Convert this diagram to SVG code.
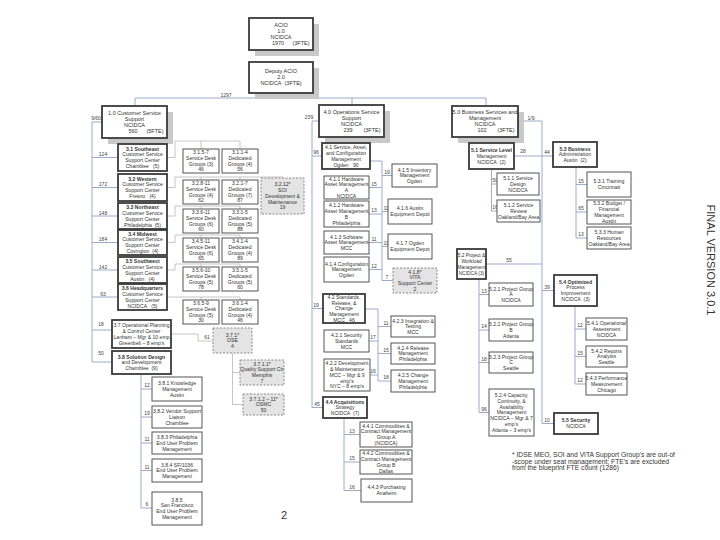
<svg xmlns="http://www.w3.org/2000/svg" width="720" height="540" viewBox="0 0 720 540">
<style>
.bx{fill:#fff;stroke:#555;stroke-width:1}
.tk{fill:#fff;stroke:#3a3a3a;stroke-width:1.8}
.ds{fill:#e4e4e4;stroke:#888;stroke-width:1;stroke-dasharray:2 1.5}
.sh{fill:#c9c9c9}
text{font-family:"Liberation Sans",Arial,sans-serif;fill:#333}
.t{font-size:5.1px;text-anchor:middle}
.tm{font-size:5.5px;text-anchor:middle}
.b{font-weight:bold}
.lb{font-size:5px;text-anchor:middle;fill:#444}
.cn{fill:none;stroke:#9caccb;stroke-width:1}
.cg{fill:none;stroke:#b8b8b8;stroke-width:0.8}
</style>
<rect width="720" height="540" fill="#fff"/>
<g id="connectors">
<path class="cn" d="M135 98 H486 M135 98 V106 M352 98 V105 M486 98 V106"/>
<path class="cn" d="M102 122 H92 V362 H112 M92 157.5 H118 M92 187.5 H118 M92 216 H118 M92 242.5 H118 M92 270 H118 M92 297 H118 M92 330 H112"/>
<path class="cg" d="M167 157.5 H175 V141 H240 V149 M201 141 V149"/>
<path class="cg" d="M167 187.5 H175 V177 H283 V178 M201 177 V180 M240 177 V180"/>
<path class="cg" d="M167 216 H175 V206 H240 V209 M201 206 V209"/>
<path class="cg" d="M167 242.5 H175 V235 H240 V238 M201 235 V238"/>
<path class="cg" d="M167 270 H175 V264 H240 V267 M201 264 V267"/>
<path class="cg" d="M167 297 H240 V300 M201 297 V300"/>
<path class="cg" d="M171 334 H198 V341 H213"/>
<path class="cg" d="M232.5 353 V404.5 H243 M232.5 372.5 H240"/>
<path class="cn" d="M141 374 V508 H152 M141 389 H152 M141 417 H152 M141 443 H152 M141 470.5 H152"/>
<path class="cn" d="M319 121 H312 V407.5 H323 M312 156 H322 M312 308.5 H323"/>
<path class="cn" d="M370 161 H382 V280.5 H393 M369 187.5 H382 M369 214 H382 M369 242.5 H382 M369 269.5 H382 M382 175.5 H392 M382 211.5 H388 M382 246.5 H388"/>
<path class="cn" d="M365 309 H378 V381 H391 M369 341 H378 M370 375 H378 M378 326.5 H391 M378 353.5 H391"/>
<path class="cn" d="M344 418 V490.5 H361 M344 434.5 H360 M344 462 H360"/>
<path class="cn" d="M518 121 H542 V423.5 H554 M542 290.5 H554"/>
<path class="cn" d="M514 156 H553 M491.5 169 V211 H497 M491.5 184 H497"/>
<path class="cn" d="M576 167 V238 H587 M576 184.5 H587 M576 212 H587"/>
<path class="cn" d="M486 264 H542 M479 279 V412.5 H489 M479 294.5 H489 M479 330 H489 M479 362.5 H489"/>
<path class="cn" d="M575 306 V384 H586 M575 329 H586 M575 356.5 H586"/>
</g>
<g id="labels">
<text class="lb" x="226" y="96.5">1297</text>
<text class="lb" x="96" y="120">9/60</text>
<text class="lb" x="103" y="156">124</text>
<text class="lb" x="103" y="186">172</text>
<text class="lb" x="103" y="214.5">148</text>
<text class="lb" x="103" y="241">184</text>
<text class="lb" x="103" y="268.5">142</text>
<text class="lb" x="103" y="295.5">63</text>
<text class="lb" x="101" y="326">18</text>
<text class="lb" x="101" y="355">50</text>
<text class="lb" x="207" y="339">61</text>
<text class="lb" x="147" y="387">12</text>
<text class="lb" x="147" y="415">19</text>
<text class="lb" x="147" y="441">11</text>
<text class="lb" x="147" y="468.5">11</text>
<text class="lb" x="147" y="506">6</text>
<text class="lb" x="309" y="119">239</text>
<text class="lb" x="316" y="154">96</text>
<text class="lb" x="316" y="307">19</text>
<text class="lb" x="317" y="405.5">45</text>
<text class="lb" x="374" y="185.5">15</text>
<text class="lb" x="374" y="212">13</text>
<text class="lb" x="374" y="240.5">11</text>
<text class="lb" x="374" y="267.5">12</text>
<text class="lb" x="387" y="173.5">19</text>
<text class="lb" x="386" y="209.5">11</text>
<text class="lb" x="386" y="244.5">11</text>
<text class="lb" x="387" y="278.5">7</text>
<text class="lb" x="373" y="339">17</text>
<text class="lb" x="373" y="373">16</text>
<text class="lb" x="386" y="324.5">11</text>
<text class="lb" x="386" y="351.5">15</text>
<text class="lb" x="386" y="379">18</text>
<text class="lb" x="352" y="432.5">13</text>
<text class="lb" x="352" y="460">15</text>
<text class="lb" x="352" y="488.5">16</text>
<text class="lb" x="531" y="119.5">1/9</text>
<text class="lb" x="523" y="153">28</text>
<text class="lb" x="547" y="153.5">44</text>
<text class="lb" x="495" y="182">50</text>
<text class="lb" x="495" y="209">16</text>
<text class="lb" x="581" y="182.5">15</text>
<text class="lb" x="581" y="210">65</text>
<text class="lb" x="581" y="236">13</text>
<text class="lb" x="509" y="262">55</text>
<text class="lb" x="484" y="292.5">13</text>
<text class="lb" x="484" y="328">14</text>
<text class="lb" x="484" y="360.5">18</text>
<text class="lb" x="484" y="410.5">96</text>
<text class="lb" x="547" y="288.5">39</text>
<text class="lb" x="580" y="327">12</text>
<text class="lb" x="580" y="354.5">15</text>
<text class="lb" x="580" y="382">12</text>
<text class="lb" x="547" y="421.5">10</text>
</g>
<g id="acio"><rect class="sh" x="255" y="24" width="64" height="32"/><rect class="tk" x="249" y="18" width="64" height="32"/>
<text class="tm"><tspan x="281" y="26.8">ACIO</tspan><tspan x="281" y="32.8">1.0</tspan><tspan x="281" y="38.8">NCIDCA</tspan><tspan x="278" y="44.8">1970</tspan></text><text class="tm" x="301" y="44.8">(3FTE)</text></g>
<g id="deputy"><rect class="sh" x="255" y="68" width="64" height="31"/><rect class="tk" x="249" y="62" width="64" height="31"/>
<text class="tm"><tspan x="281" y="73.3">Deputy ACIO</tspan><tspan x="281" y="79.3">2.0</tspan><tspan x="281" y="85.3">NCIDCA&#160;&#160;(3FTE)</tspan></text></g>
<g id="n1_0"><rect class="sh" x="108" y="112" width="65" height="32"/><rect class="tk" x="102" y="106" width="65" height="32"/>
<text class="tm"><tspan x="134.5" y="114.8">1.0 Customer Service</tspan><tspan x="134.5" y="120.8">Support</tspan><tspan x="134.5" y="126.8">NCIDCA</tspan><tspan x="133" y="132.8">560</tspan></text><text class="tm" x="155" y="132.8">(5FTE)</text></g>
<g id="n3_1"><rect class="tk" x="118" y="144" width="49" height="27"/><text class="t"><tspan class="b" x="142.5" y="150.6">3.1 Southeast</tspan><tspan x="142.5" y="156.4">Customer Service</tspan><tspan x="142.5" y="162.2">Support Center</tspan><tspan x="142.5" y="168">Chamblee&#160;&#160;&#160;(5)</tspan></text></g>
<g id="n3_2"><rect class="tk" x="118" y="174" width="49" height="27"/><text class="t"><tspan class="b" x="142.5" y="180.6">3.2 Western</tspan><tspan x="142.5" y="186.4">Customer Service</tspan><tspan x="142.5" y="192.2">Support Center</tspan><tspan x="142.5" y="198">Fresno&#160;&#160;&#160;(4)</tspan></text></g>
<g id="n3_3"><rect class="tk" x="118" y="203" width="49" height="26"/><text class="t"><tspan class="b" x="142.5" y="209.1">3.3 Northeast</tspan><tspan x="142.5" y="214.9">Customer Service</tspan><tspan x="142.5" y="220.7">Support Center</tspan><tspan x="142.5" y="226.5">Philadelphia&#160;&#160;(5)</tspan></text></g>
<g id="n3_4"><rect class="tk" x="118" y="230" width="49" height="25"/><text class="t"><tspan class="b" x="142.5" y="235.6">3.4 Midwest</tspan><tspan x="142.5" y="241.4">Customer Service</tspan><tspan x="142.5" y="247.2">Support Center</tspan><tspan x="142.5" y="253">Covington&#160;&#160;(4)</tspan></text></g>
<g id="n3_5"><rect class="tk" x="118" y="257" width="49" height="26"/><text class="t"><tspan class="b" x="142.5" y="263.1">3.5 Southwest</tspan><tspan x="142.5" y="268.9">Customer Service</tspan><tspan x="142.5" y="274.7">Support Center</tspan><tspan x="142.5" y="280.5">Austin&#160;&#160;&#160;(4)</tspan></text></g>
<g id="n3_6"><rect class="tk" x="118" y="284" width="49" height="26"/><text class="t"><tspan class="b" x="142.5" y="290.1">3.6 Headquarters</tspan><tspan x="142.5" y="295.9">Customer Service</tspan><tspan x="142.5" y="301.7">Support Center</tspan><tspan x="142.5" y="307.5">NCIDCA&#160;&#160;&#160;(5)</tspan></text></g>
<g id="g3_1s"><rect class="bx" x="183" y="149" width="36" height="24"/><text class="t"><tspan x="201" y="154.4">3.1.5-7</tspan><tspan x="201" y="160">Service Desk</tspan><tspan x="201" y="165.6">Groups (3)</tspan><tspan x="201" y="171.2">46</tspan></text></g>
<g id="g3_1d"><rect class="bx" x="222" y="149" width="36" height="24"/><text class="t"><tspan x="240" y="154.4">3.1.1-4</tspan><tspan x="240" y="160">Dedicated</tspan><tspan x="240" y="165.6">Groups (4)</tspan><tspan x="240" y="171.2">56</tspan></text></g>
<g id="g3_2s"><rect class="bx" x="183" y="180" width="36" height="24"/><text class="t"><tspan x="201" y="185.4">3.2.8-11</tspan><tspan x="201" y="191">Service Desk</tspan><tspan x="201" y="196.6">Groups (4)</tspan><tspan x="201" y="202.2">62</tspan></text></g>
<g id="g3_2d"><rect class="bx" x="222" y="180" width="36" height="24"/><text class="t"><tspan x="240" y="185.4">3.2.1-7</tspan><tspan x="240" y="191">Dedicated</tspan><tspan x="240" y="196.6">Groups (7)</tspan><tspan x="240" y="202.2">87</tspan></text></g>
<g id="g3_3s"><rect class="bx" x="183" y="209" width="36" height="24"/><text class="t"><tspan x="201" y="214.4">3.3.6-11</tspan><tspan x="201" y="220">Service Desk</tspan><tspan x="201" y="225.6">Groups (6)</tspan><tspan x="201" y="231.2">60</tspan></text></g>
<g id="g3_3d"><rect class="bx" x="222" y="209" width="36" height="24"/><text class="t"><tspan x="240" y="214.4">3.3.1-5</tspan><tspan x="240" y="220">Dedicated</tspan><tspan x="240" y="225.6">Groups (5)</tspan><tspan x="240" y="231.2">88</tspan></text></g>
<g id="g3_4s"><rect class="bx" x="183" y="238" width="36" height="24"/><text class="t"><tspan x="201" y="243.4">3.4.5-11</tspan><tspan x="201" y="249">Service Desk</tspan><tspan x="201" y="254.6">Groups (6)</tspan><tspan x="201" y="260.2">65</tspan></text></g>
<g id="g3_4d"><rect class="bx" x="222" y="238" width="36" height="24"/><text class="t"><tspan x="240" y="243.4">3.4.1-4</tspan><tspan x="240" y="249">Dedicated</tspan><tspan x="240" y="254.6">Groups (4)</tspan><tspan x="240" y="260.2">89</tspan></text></g>
<g id="g3_5s"><rect class="bx" x="183" y="267" width="36" height="24"/><text class="t"><tspan x="201" y="272.4">3.5.6-10</tspan><tspan x="201" y="278">Service Desk</tspan><tspan x="201" y="283.6">Groups (5)</tspan><tspan x="201" y="289.2">78</tspan></text></g>
<g id="g3_5d"><rect class="bx" x="222" y="267" width="36" height="24"/><text class="t"><tspan x="240" y="272.4">3.5.1-5</tspan><tspan x="240" y="278">Dedicated</tspan><tspan x="240" y="283.6">Groups (5)</tspan><tspan x="240" y="289.2">60</tspan></text></g>
<g id="g3_6s"><rect class="bx" x="183" y="300" width="36" height="24"/><text class="t"><tspan x="201" y="305.4">3.6.5-9</tspan><tspan x="201" y="311">Service Desk</tspan><tspan x="201" y="316.6">Groups (5)</tspan><tspan x="201" y="322.2">30</tspan></text></g>
<g id="g3_6d"><rect class="bx" x="222" y="300" width="36" height="24"/><text class="t"><tspan x="240" y="305.4">3.6.1-4</tspan><tspan x="240" y="311">Dedicated</tspan><tspan x="240" y="316.6">Groups (4)</tspan><tspan x="240" y="322.2">46</tspan></text></g>
<g id="n3_2_12"><rect class="ds" x="261" y="178" width="43" height="36"/><text class="t"><tspan x="282.5" y="186.2">3.2.12*</tspan><tspan x="282.5" y="192">SOI</tspan><tspan x="282.5" y="197.8">Development &amp;</tspan><tspan x="282.5" y="203.6">Maintenance</tspan><tspan x="282.5" y="209.4">19</tspan></text></g>
<g id="n3_7"><rect class="tk" x="112" y="320" width="59" height="28"/><text class="t"><tspan x="141.5" y="327.1">3.7 Operational Planning</tspan><tspan x="141.5" y="332.9">&amp; Control Center</tspan><tspan x="141.5" y="338.7">Lanham – Mgr &amp; 10 emp</tspan><tspan x="141.5" y="344.5">Greenbelt – 8 emp's</tspan></text></g>
<g id="n3_8"><rect class="tk" x="112" y="351" width="59" height="23"/><text class="t"><tspan class="b" x="141.5" y="358.5">3.8 Solution Design</tspan><tspan x="141.5" y="364.3">and Development</tspan><tspan x="141.5" y="370.1">Chamblee&#160;&#160;(9)</tspan></text></g>
<g id="n3_7_1"><rect class="ds" x="213" y="328" width="39" height="25"/><text class="t"><tspan x="232.5" y="336.5">3.7.1*</tspan><tspan x="232.5" y="342.3">OSE</tspan><tspan x="232.5" y="348.1">4</tspan></text></g>
<g id="n3_7_1_1"><rect class="ds" x="240" y="360" width="44" height="25"/><text class="t"><tspan x="262" y="365.6">3.7.1.1*</tspan><tspan x="262" y="371.4">Quality Support Ctr</tspan><tspan x="262" y="377.2">Memphis</tspan><tspan x="262" y="383">7</tspan></text></g>
<g id="n3_7_1_2"><rect class="ds" x="243" y="394" width="41" height="21"/><text class="t"><tspan x="263.5" y="400.5">3.7.1.2 – 11*</tspan><tspan x="263.5" y="406.3">OSMC</tspan><tspan x="263.5" y="412.1">50</tspan></text></g>
<g id="n3_8_1"><rect class="bx" x="152" y="377" width="50" height="24"/><text class="t"><tspan x="177" y="385">3.8.1 Knowledge</tspan><tspan x="177" y="390.8">Management</tspan><tspan x="177" y="396.6">Austin</tspan></text></g>
<g id="n3_8_2"><rect class="bx" x="152" y="406" width="50" height="22"/><text class="t"><tspan x="177" y="413">3.8.2 Vendor Support</tspan><tspan x="177" y="418.8">Liaison</tspan><tspan x="177" y="424.6">Chamblee</tspan></text></g>
<g id="n3_8_3"><rect class="bx" x="152" y="432" width="50" height="22"/><text class="t"><tspan x="177" y="439">3.8.3 Philadelphia</tspan><tspan x="177" y="444.8">End User Problem</tspan><tspan x="177" y="450.6">Management</tspan></text></g>
<g id="n3_8_4"><rect class="bx" x="152" y="459" width="50" height="23"/><text class="t"><tspan x="177" y="466.5">3.8.4 SF/1036</tspan><tspan x="177" y="472.3">End User Problem</tspan><tspan x="177" y="478.1">Management</tspan></text></g>
<g id="n3_8_5"><rect class="bx" x="152" y="492" width="50" height="33"/><text class="t"><tspan x="177" y="501.6">3.8.5</tspan><tspan x="177" y="507.4">San Francisco</tspan><tspan x="177" y="513.2">End User Problem</tspan><tspan x="177" y="519">Management</tspan></text></g>
<g id="n4_0"><rect class="sh" x="325" y="111" width="65" height="32"/><rect class="tk" x="319" y="105" width="65" height="32"/>
<text class="tm"><tspan x="351.5" y="113.8">4.0 Operations Service</tspan><tspan x="351.5" y="119.8">Support</tspan><tspan x="351.5" y="125.8">NCIDCA</tspan><tspan x="348" y="131.8">239</tspan></text><text class="tm" x="372" y="131.8">(3FTE)</text></g>
<g id="n4_1"><rect class="tk" x="322" y="143" width="48" height="26"/><text class="t"><tspan x="346" y="149.1">4.1 Service, Asset,</tspan><tspan x="346" y="154.9">and Configuration</tspan><tspan x="346" y="160.7">Management</tspan><tspan x="346" y="166.5">Ogden&#160;&#160;&#160;90</tspan></text></g>
<g id="n4_1_1"><rect class="bx" x="324" y="176" width="45" height="23"/><text class="t"><tspan x="346.5" y="180.6">4.1.1 Hardware</tspan><tspan x="346.5" y="186.4">Asset Management</tspan><tspan x="346.5" y="192.2">A</tspan><tspan x="346.5" y="198">NCIDCA</tspan></text></g>
<g id="n4_1_2"><rect class="bx" x="324" y="201" width="45" height="26"/><text class="t"><tspan x="346.5" y="207.1">4.1.2 Hardware</tspan><tspan x="346.5" y="212.9">Asset Management</tspan><tspan x="346.5" y="218.7">B</tspan><tspan x="346.5" y="224.5">Philadelphia</tspan></text></g>
<g id="n4_1_3"><rect class="bx" x="324" y="231" width="45" height="23"/><text class="t"><tspan x="346.5" y="238.5">4.1.3 Software</tspan><tspan x="346.5" y="244.3">Asset Management</tspan><tspan x="346.5" y="250.1">MCC</tspan></text></g>
<g id="n4_1_4"><rect class="bx" x="324" y="257" width="45" height="25"/><text class="t"><tspan x="346.5" y="265.5">4.1.4 Configuration</tspan><tspan x="346.5" y="271.3">Management</tspan><tspan x="346.5" y="277.1">Ogden</tspan></text></g>
<g id="n4_1_5"><rect class="bx" x="392" y="164" width="45" height="23"/><text class="t"><tspan x="414.5" y="171.5">4.1.5 Inventory</tspan><tspan x="414.5" y="177.3">Management</tspan><tspan x="414.5" y="183.1">Ogden</tspan></text></g>
<g id="n4_1_6"><rect class="bx" x="388" y="199" width="44" height="25"/><text class="t"><tspan x="410" y="210.4">4.1.6 Austin</tspan><tspan x="410" y="216.2">Equipment Depot</tspan></text></g>
<g id="n4_1_7"><rect class="bx" x="388" y="234" width="44" height="25"/><text class="t"><tspan x="410" y="245.4">4.1.7 Ogden</tspan><tspan x="410" y="251.2">Equipment Depot</tspan></text></g>
<g id="n4_1_8"><rect class="ds" x="393" y="268" width="44" height="25"/><text class="t"><tspan x="415" y="273.6">4.1.8*</tspan><tspan x="415" y="279.4">VITA</tspan><tspan x="415" y="285.2">Support Center</tspan><tspan x="415" y="291">2</tspan></text></g>
<g id="n4_2"><rect class="tk" x="323" y="294" width="42" height="29"/><text class="t"><tspan x="344" y="298.7">4.2 Standards,</tspan><tspan x="344" y="304.5">Release, &amp;</tspan><tspan x="344" y="310.3">Change</tspan><tspan x="344" y="316.1">Management</tspan><tspan x="344" y="321.9">MCC&#160;&#160;&#160;46</tspan></text></g>
<g id="n4_2_1"><rect class="bx" x="324" y="330" width="45" height="22"/><text class="t"><tspan x="346.5" y="337">4.2.1 Security</tspan><tspan x="346.5" y="342.8">Standards</tspan><tspan x="346.5" y="348.6">MCC</tspan></text></g>
<g id="n4_2_2"><rect class="bx" x="324" y="359" width="46" height="32"/><text class="t"><tspan x="347" y="365.2">4.2.2 Development</tspan><tspan x="347" y="371">&amp; Maintenance</tspan><tspan x="347" y="376.8">MCC – Mgr &amp; 9</tspan><tspan x="347" y="382.6">emp's</tspan><tspan x="347" y="388.4">NYC – 8 emp's</tspan></text></g>
<g id="n4_2_3"><rect class="bx" x="391" y="316" width="44" height="21"/><text class="t"><tspan x="413" y="322.5">4.2.3 Integration &amp;</tspan><tspan x="413" y="328.3">Testing</tspan><tspan x="413" y="334.1">MCC</tspan></text></g>
<g id="n4_2_4"><rect class="bx" x="391" y="343" width="44" height="21"/><text class="t"><tspan x="413" y="349.5">4.2.4 Release</tspan><tspan x="413" y="355.3">Management</tspan><tspan x="413" y="361.1">Philadelphia</tspan></text></g>
<g id="n4_2_5"><rect class="bx" x="391" y="370" width="44" height="22"/><text class="t"><tspan x="413" y="377">4.2.5 Change</tspan><tspan x="413" y="382.8">Management</tspan><tspan x="413" y="388.6">Philadelphia</tspan></text></g>
<g id="n4_4"><rect class="tk" x="323" y="397" width="44" height="21"/><text class="t"><tspan class="b" x="345" y="403.5">4.4 Acquisitions</tspan><tspan x="345" y="409.3">Strategy</tspan><tspan x="345" y="415.1">NCIDCA&#160;&#160;(7)</tspan></text></g>
<g id="n4_4_1"><rect class="bx" x="360" y="422" width="52" height="25"/><text class="t"><tspan x="386" y="427.6">4.4.1 Commodities &amp;</tspan><tspan x="386" y="433.4">Contract Management</tspan><tspan x="386" y="439.2">Group A</tspan><tspan x="386" y="445">(NCIDCA)</tspan></text></g>
<g id="n4_4_2"><rect class="bx" x="360" y="450" width="52" height="24"/><text class="t"><tspan x="386" y="455.1">4.4.2 Commodities &amp;</tspan><tspan x="386" y="460.9">Contract Management</tspan><tspan x="386" y="466.7">Group B</tspan><tspan x="386" y="472.5">Dallas</tspan></text></g>
<g id="n4_4_3"><rect class="bx" x="361" y="479" width="51" height="23"/><text class="t"><tspan x="386.5" y="489.4">4.4.3 Purchasing</tspan><tspan x="386.5" y="495.2">Anaheim</tspan></text></g>
<g id="n5_0"><rect class="sh" x="458" y="112" width="66" height="31"/><rect class="tk" x="452" y="106" width="66" height="31"/>
<text class="tm"><tspan x="485" y="114.3">5.0 Business Services and</tspan><tspan x="485" y="120.3">Management</tspan><tspan x="485" y="126.3">NCIDCA</tspan><tspan x="482" y="132.3">102</tspan></text><text class="tm" x="506" y="132.3">(3FTE)</text></g>
<g id="n5_1"><rect class="tk" x="469" y="143" width="45" height="26"/><text class="t"><tspan class="b" x="491.5" y="152">5.1 Service Level</tspan><tspan x="491.5" y="157.8">Management</tspan><tspan x="491.5" y="163.6">NCIDCA&#160;&#160;(2)</tspan></text></g>
<g id="n5_1_1"><rect class="bx" x="497" y="173" width="42" height="22"/><text class="t"><tspan x="518" y="180">5.1.1 Service</tspan><tspan x="518" y="185.8">Design</tspan><tspan x="518" y="191.6">NCIDCA</tspan></text></g>
<g id="n5_1_2"><rect class="bx" x="497" y="200" width="43" height="22"/><text class="t"><tspan x="518.5" y="207">5.1.2 Service</tspan><tspan x="518.5" y="212.8">Review</tspan><tspan x="518.5" y="218.6">Oakland/Bay Area</tspan></text></g>
<g id="n5_3"><rect class="tk" x="553" y="142" width="44" height="25"/><text class="t"><tspan class="b" x="575" y="150.5">5.3 Business</tspan><tspan x="575" y="156.3">Administration</tspan><tspan x="575" y="162.1">Austin&#160;&#160;(2)</tspan></text></g>
<g id="n5_3_1"><rect class="bx" x="587" y="172" width="44" height="25"/><text class="t"><tspan x="609" y="183.4">5.3.1 Training</tspan><tspan x="609" y="189.2">Cincinnati</tspan></text></g>
<g id="n5_3_2"><rect class="bx" x="587" y="200" width="44" height="24"/><text class="t"><tspan x="609" y="205.1">5.3.2 Budget /</tspan><tspan x="609" y="210.9">Financial</tspan><tspan x="609" y="216.7">Management</tspan><tspan x="609" y="222.5">Austin</tspan></text></g>
<g id="n5_3_3"><rect class="bx" x="587" y="227" width="44" height="22"/><text class="t"><tspan x="609" y="234">5.3.3 Human</tspan><tspan x="609" y="239.8">Resources</tspan><tspan x="609" y="245.6">Oakland/Bay Area</tspan></text></g>
<g id="n5_2"><rect class="tk" x="457" y="249" width="29" height="30"/><text class="t" style="font-size:4.8px"><tspan x="471.5" y="257.1">5.2 Project &amp;</tspan><tspan x="471.5" y="262.9">Workload</tspan><tspan x="471.5" y="268.7">Management</tspan><tspan x="471.5" y="274.5">NCIDCA (3)</tspan></text></g>
<g id="n5_2_1"><rect class="bx" x="489" y="283" width="44" height="23"/><text class="t"><tspan x="511" y="290.5">5.2.1 Project Group</tspan><tspan x="511" y="296.3">A</tspan><tspan x="511" y="302.1">NCIDCA</tspan></text></g>
<g id="n5_2_2"><rect class="bx" x="489" y="319" width="44" height="22"/><text class="t"><tspan x="511" y="326">5.2.2 Project Group</tspan><tspan x="511" y="331.8">B</tspan><tspan x="511" y="337.6">Atlanta</tspan></text></g>
<g id="n5_2_3"><rect class="bx" x="489" y="352" width="44" height="21"/><text class="t"><tspan x="511" y="358.5">5.2.3 Project Group</tspan><tspan x="511" y="364.3">C</tspan><tspan x="511" y="370.1">Seattle</tspan></text></g>
<g id="n5_2_4"><rect class="bx" x="489" y="389" width="45" height="47"/><text class="t"><tspan x="511.5" y="396.9">5.2.4 Capacity,</tspan><tspan x="511.5" y="402.7">Continuity, &amp;</tspan><tspan x="511.5" y="408.5">Availability</tspan><tspan x="511.5" y="414.3">Management</tspan><tspan x="511.5" y="420.1">NCIDCA – Mgr &amp; 7</tspan><tspan x="511.5" y="425.9">emp's</tspan><tspan x="511.5" y="431.7">Atlanta – 3 emp's</tspan></text></g>
<g id="n5_4"><rect class="tk" x="554" y="275" width="43" height="31"/><text class="t"><tspan class="b" x="575.5" y="283.6">5.4 Optimized</tspan><tspan x="575.5" y="289.4">Process</tspan><tspan x="575.5" y="295.2">Improvement</tspan><tspan x="575.5" y="301">NCIDCA&#160;&#160;(3)</tspan></text></g>
<g id="n5_4_1"><rect class="bx" x="586" y="318" width="41" height="22"/><text class="t"><tspan x="606.5" y="325">5.4.1 Operational</tspan><tspan x="606.5" y="330.8">Assessment</tspan><tspan x="606.5" y="336.6">NCIDCA</tspan></text></g>
<g id="n5_4_2"><rect class="bx" x="586" y="346" width="41" height="21"/><text class="t"><tspan x="606.5" y="352.5">5.4.2 Reports</tspan><tspan x="606.5" y="358.3">Analysis</tspan><tspan x="606.5" y="364.1">Seattle</tspan></text></g>
<g id="n5_4_3"><rect class="bx" x="586" y="373" width="41" height="22"/><text class="t"><tspan x="606.5" y="380">5.4.3 Performance</tspan><tspan x="606.5" y="385.8">Measurement</tspan><tspan x="606.5" y="391.6">Chicago</tspan></text></g>
<g id="n5_5"><rect class="tk" x="554" y="413" width="44" height="21"/><text class="t"><tspan class="b" x="576" y="422.4">5.5 Security</tspan><tspan x="576" y="428.2">NCIDCA</tspan></text></g>
<g id="footnote"><text style="font-size:6.3px" x="512" y="457" textLength="163" lengthAdjust="spacingAndGlyphs">* IDSE MEO, SOI and VITA Support Group's are out-of</text>
<text style="font-size:6.3px" x="512" y="463.5" textLength="157" lengthAdjust="spacingAndGlyphs">-scope under seat management; FTE's are excluded</text>
<text style="font-size:6.3px" x="512" y="470" textLength="107" lengthAdjust="spacingAndGlyphs">from the blueprint FTE count (1286)</text></g>
<text style="font-size:11px" x="284" y="519" text-anchor="middle">2</text>
<text style="font-size:11px" text-anchor="middle" transform="translate(707,260) rotate(90)">FINAL VERSION 3.0.1</text>
</svg>
